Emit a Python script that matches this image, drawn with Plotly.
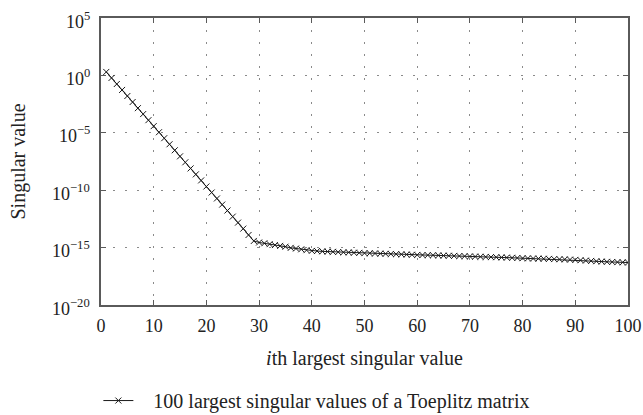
import plotly.graph_objects as go

# Index of each singular value (1..100)
index = list(range(1, 101))

# 100 largest singular values of a Toeplitz matrix
singular_values = [
    2.0e0, 6.0e-1, 1.78e-1, 5.4e-2, 1.6e-2, 4.8e-3, 1.4e-3, 4.3e-4, 1.26e-4, 3.8e-5,
    1.12e-5, 3.4e-6, 1.0e-6, 3.0e-7, 8.9e-8, 2.7e-8, 7.9e-9, 2.4e-9, 7.1e-10, 2.1e-10,
    6.3e-11, 1.9e-11, 5.6e-12, 1.7e-12, 5.0e-13, 1.5e-13, 4.5e-14, 1.26e-14, 3.8e-15, 2.8e-15,
    2.4e-15, 2.0e-15, 1.66e-15, 1.41e-15, 1.2e-15, 9.5e-16, 8.3e-16, 7.1e-16, 6.0e-16, 5.2e-16,
    5.0e-16, 4.7e-16, 4.5e-16, 4.3e-16, 4.1e-16, 3.9e-16, 3.8e-16, 3.6e-16, 3.5e-16, 3.3e-16,
    3.2e-16, 3.1e-16, 3.0e-16, 2.9e-16, 2.8e-16, 2.7e-16, 2.6e-16, 2.5e-16, 2.4e-16, 2.3e-16,
    2.25e-16, 2.2e-16, 2.15e-16, 2.1e-16, 2.0e-16, 1.95e-16, 1.9e-16, 1.85e-16, 1.8e-16, 1.7e-16,
    1.65e-16, 1.6e-16, 1.55e-16, 1.5e-16, 1.45e-16, 1.4e-16, 1.35e-16, 1.3e-16, 1.25e-16, 1.2e-16,
    1.15e-16, 1.12e-16, 1.1e-16, 1.07e-16, 1.04e-16, 1.0e-16, 9.7e-17, 9.4e-17, 9.0e-17, 8.5e-17,
    8.0e-17, 7.4e-17, 6.9e-17, 6.5e-17, 6.1e-17, 5.8e-17, 5.6e-17, 5.4e-17, 5.2e-17, 5.0e-17,
]

# Axis ticks
x_ticks = [0, 10, 20, 30, 40, 50, 60, 70, 80, 90, 100]
y_exponents = [5, 0, -5, -10, -15, -20]
y_tickvals = [10.0 ** e for e in y_exponents]
y_ticktext = [f"10<sup>{e}</sup>".replace("-", "\u2212") for e in y_exponents]

FONT = "Liberation Serif, DejaVu Serif, serif"
INK = "#1a1a1a"
TEXT = "#222222"

fig = go.Figure()
fig.add_trace(go.Scatter(
    x=index,
    y=singular_values,
    mode="lines+markers",
    name="\u00a0\u00a0\u00a0100 largest singular values of a Toeplitz matrix",
    line=dict(color=INK, width=1),
    marker=dict(symbol="x-thin", size=6, line=dict(color=INK, width=1), color=INK),
))

axis_common = dict(
    showline=True,
    linecolor="#5a5a5a",
    linewidth=1.5,
    mirror="ticks",
    ticks="inside",
    ticklen=5,
    tickcolor="#5a5a5a",
    showgrid=True,
    gridcolor="#8a8a8a",
    griddash="2px,10px",
    gridwidth=1,
    zeroline=False,
    automargin=False,
    tickfont=dict(family=FONT, size=18, color=TEXT),
)

fig.update_xaxes(
    range=[0, 100],
    tickvals=x_ticks,
    ticklabelstandoff=4,
    title=dict(text="<i>i</i>th largest singular value",
               font=dict(family=FONT, size=20, color=TEXT), standoff=16),
    **axis_common,
)
# y labels are drawn as right-aligned annotations pinned to the log axis
fig.update_yaxes(
    type="log",
    range=[-20, 5],
    tickvals=y_tickvals,
    showticklabels=False,
    title=dict(text="Singular value",
               font=dict(family=FONT, size=20, color=TEXT), standoff=68),
    **axis_common,
)
for exp, label in zip(y_exponents, y_ticktext):
    # annotation positions on a log axis are given in log10 units
    fig.add_annotation(
        xref="paper", x=0, xanchor="right", xshift=-9,
        yref="y", y=exp, yanchor="middle", yshift=-2,
        text=label, showarrow=False, align="right",
        font=dict(family=FONT, size=18, color=TEXT),
    )

fig.update_layout(
    width=643,
    height=415,
    margin=dict(l=101, r=15, t=18, b=110, autoexpand=False),
    plot_bgcolor="white",
    paper_bgcolor="white",
    showlegend=True,
    legend=dict(
        orientation="h",
        x=-0.005,
        xanchor="left",
        y=-0.265,
        yanchor="top",
        font=dict(family=FONT, size=20, color=TEXT),
        bgcolor="rgba(0,0,0,0)",
    ),
)

fig.write_html("out.html")
